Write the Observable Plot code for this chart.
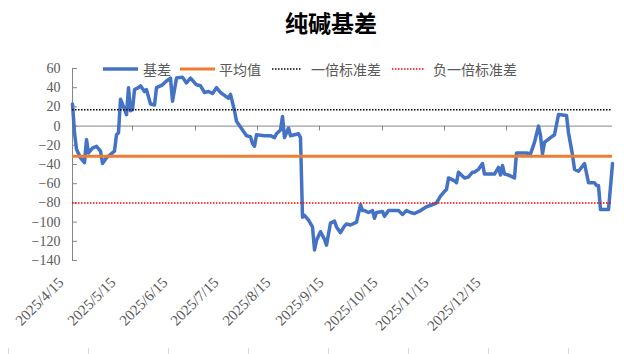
<!DOCTYPE html>
<html><head><meta charset="utf-8">
<script src="https://cdn.jsdelivr.net/npm/d3@7"></script>
<script src="https://cdn.jsdelivr.net/npm/@observablehq/plot@0.6"></script>
<style>
body{margin:0;background:#fff;}
#wrap{position:relative;width:624px;height:354px;overflow:hidden;background:#fff;}
#chart{position:absolute;left:0;top:0;}
#title{position:absolute;left:0;width:662px;top:8px;text-align:center;font:700 23px "Noto Sans CJK SC";color:#000;line-height:28px;}
.lgt{position:absolute;top:60px;font:14px "Noto Sans CJK SC";color:#595959;line-height:18px;white-space:nowrap;}
.lgs{position:absolute;top:62px;}
#cells{position:absolute;left:0;top:348px;width:624px;height:6px;background:repeating-linear-gradient(to right,transparent 0,transparent 8px,#d9d9d9 8px,#d9d9d9 9px,transparent 9px,transparent 80px);background-size:80px 6px;}
</style></head><body>
<div id="wrap"><div id="cells"></div><div id="chart"></div><div id="title">纯碱基差</div><div id="legend"></div></div>
<script>
// ---- data ----
const dayIdx = [0,1,2,4,6,7,8,10,12,14,15,17,21,22,23,24,25,27,28,29,30,31,33,34,36,37,39,41,42,45,47,49,50,52,55,57,59,62,64,66,68,70,72,74,76,78,79,81,82,85,87,89,90,91,92,96,99,101,102,104,105,106,108,109,111,113,114,115,116,118,120,121,122,124,126,127,129,131,132,134,136,137,139,141,142,144,145,146,148,150,151,152,155,156,158,161,163,165,167,169,171,174,177,181,182,184,186,187,188,191,192,193,196,198,200,201,203,205,206,209,211,213,214,215,216,218,221,222,225,227,229,231,233,234,235,236,239,241,243,247,248,250,251,253,256,257,258,261,262,263,264,268,270];
const basis = [23,-7,-24,-33,-38,-14,-28,-23,-21,-26,-39,-33,-26,-9,-7,28,23,12,40,16,17,38,40,42,36,38,23,22,40,43,47,50,26,50,51,45,50,43,42,35,36,34,40,35,32,29,33,16,5,-4,-10,-11,-18,-21,-9,-10,-10,-12,-8,-4,10,-12,-2,-10,-9,-8,-12,-95,-93,-98,-105,-129,-119,-110,-118,-124,-101,-99,-105,-111,-104,-102,-103,-101,-100,-82,-88,-88,-90,-88,-96,-90,-89,-94,-88,-88,-88,-92,-88,-90,-91,-88,-84,-81,-80,-73,-68,-66,-54,-57,-59,-48,-54,-53,-48,-48,-45,-39,-50,-50,-50,-43,-51,-41,-50,-51,-54,-28,-28,-28,-29,-17,0,-10,-29,-17,-12,-9,12,11,-7,-30,-45,-47,-39,-49,-59,-59,-62,-62,-87,-87,-39];
const meanValue = -31.5;
const plusOneStd = 17;
const minusOneStd = -80;
const yTicks = [60,40,20,0,-20,-40,-60,-80,-100,-120,-140];
const xLabels = ["2025/4/15","2025/5/15","2025/6/15","2025/7/15","2025/8/15","2025/9/15","2025/10/15","2025/11/15","2025/12/15"];
const xLabelPos = [-6,20,46,71.5,97.5,124,151,176.5,202.5];
const axisTicks = [30,61.5,92.5,123.5,155,186,217,248];
const seriesNames = ["基差","平均值","一倍标准差","负一倍标准差"];

const series = dayIdx.map((d,i)=>({day:d, value:basis[i]}));
const fmt = d => d < 0 ? "\u2212" + Math.abs(d) : String(d);
const AX = "#868686";

const chart = Plot.plot({
  width:624, height:354, marginTop:68, marginBottom:94, marginLeft:72, marginRight:12,
  x:{domain:[0,270], axis:null},
  y:{domain:[-140,60], axis:null},
  style:{fontFamily:"'Liberation Serif', serif", fontSize:"14px", color:"#595959", background:"transparent", overflow:"visible"},
  marks:[
    Plot.ruleX([0], {y1:-140, y2:60, stroke:AX, strokeWidth:1}),
    Plot.ruleY(yTicks, {y:d=>d, x1:0, x2:2.5, stroke:AX}),
    Plot.axisY({ticks:yTicks, tickSize:0, tickPadding:12, tickFormat:fmt, label:null}),
    Plot.ruleY([0], {x1:0, x2:270, stroke:AX}),
    Plot.ruleX(axisTicks, {x:d=>d, y1:0, y2:-5, stroke:AX}),
    Plot.text(xLabels, {x:(d,i)=>xLabelPos[i], frameAnchor:"bottom", text:d=>d, rotate:-45, textAnchor:"end", dx:4, dy:23, fontSize:15, fill:"#595959"}),
    Plot.line(series, {x:"day", y:"value", stroke:"#4472C4", strokeWidth:3.5, strokeLinejoin:"round", strokeLinecap:"round"}),
    Plot.ruleY([meanValue], {stroke:"#ED7D31", strokeWidth:3}),
    Plot.ruleY([plusOneStd], {stroke:"#000", strokeWidth:1.5, strokeDasharray:"1.5,1.5"}),
    Plot.ruleY([minusOneStd], {stroke:"#FF0000", strokeWidth:1.5, strokeDasharray:"1.5,1.5"})
  ]
});
document.getElementById("chart").appendChild(chart);

// legend
const lg = [
  {color:"#4472C4", w:3.5, dash:null, x0:103, x1:138, tx:143},
  {color:"#ED7D31", w:3, dash:null, x0:180, x1:215, tx:219},
  {color:"#000000", w:1.5, dash:"1.5,1.5", x0:272, x1:302, tx:311},
  {color:"#FF0000", w:1.5, dash:"1.5,1.5", x0:392, x1:424, tx:433}
];
const legend = document.getElementById("legend");
lg.forEach((it,i)=>{
  const w = it.x1 - it.x0;
  const s = document.createElementNS("http://www.w3.org/2000/svg","svg");
  s.setAttribute("class","lgs"); s.setAttribute("width",w); s.setAttribute("height",14);
  s.style.left = it.x0 + "px";
  const l = document.createElementNS("http://www.w3.org/2000/svg","line");
  l.setAttribute("x1",0); l.setAttribute("x2",w); l.setAttribute("y1",7); l.setAttribute("y2",7);
  l.setAttribute("stroke",it.color); l.setAttribute("stroke-width",it.w);
  if (it.dash) l.setAttribute("stroke-dasharray",it.dash);
  s.appendChild(l); legend.appendChild(s);
  const t = document.createElement("div");
  t.className = "lgt"; t.style.left = it.tx + "px"; t.textContent = seriesNames[i];
  legend.appendChild(t);
});
</script>
</body></html>
